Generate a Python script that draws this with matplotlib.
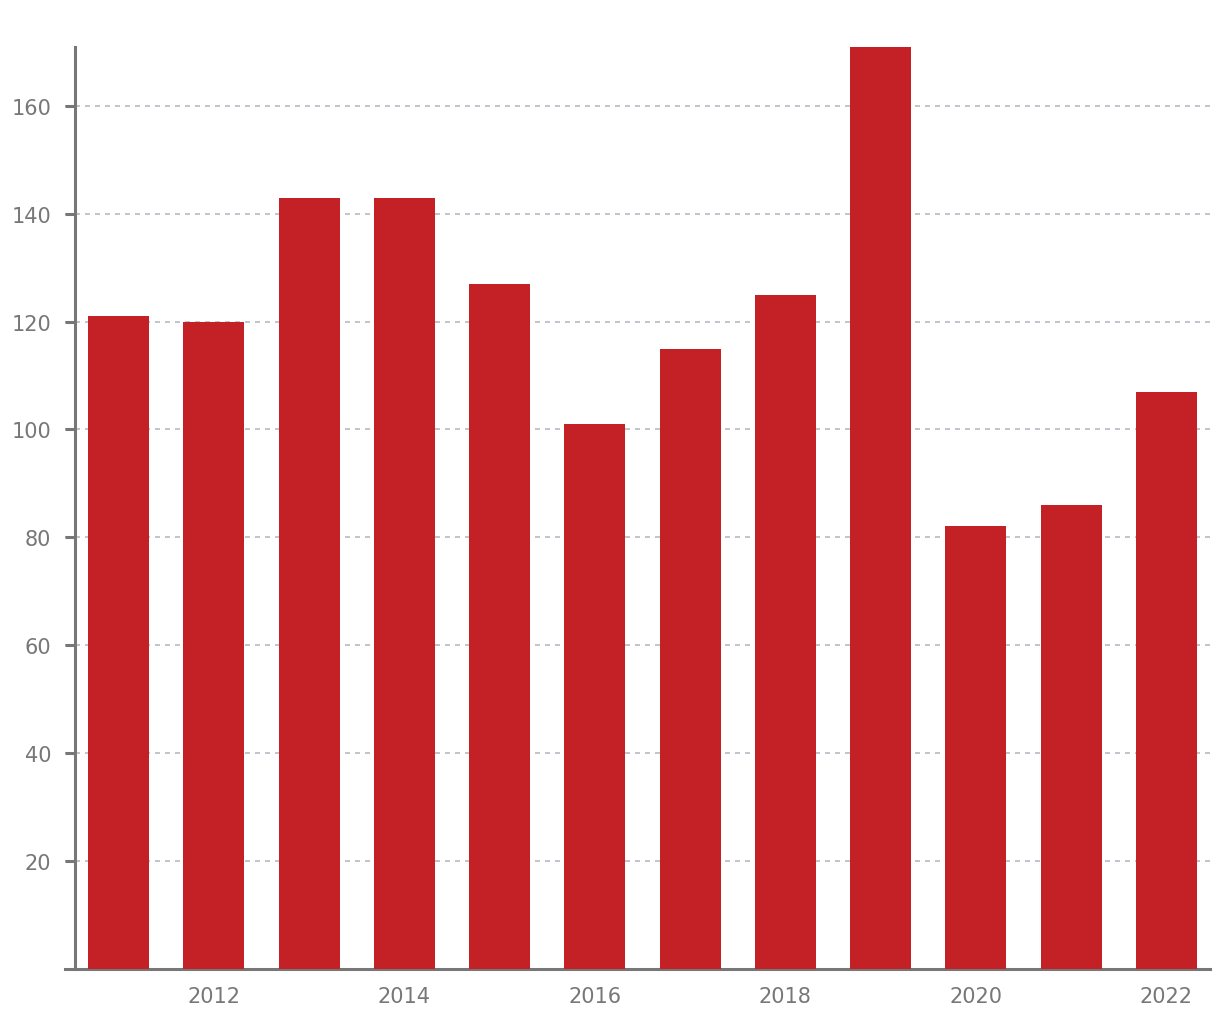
import matplotlib.pyplot as plt

years = [2011, 2012, 2013, 2014, 2015, 2016, 2017, 2018, 2019, 2020, 2021, 2022]
values = [121, 120, 143, 143, 127, 101, 115, 125, 171, 82, 86, 107]
xtick_years = [2012, 2014, 2016, 2018, 2020, 2022]
ytick_vals = [20, 40, 60, 80, 100, 120, 140, 160]

plt.rcParams['font.family'] = ['DejaVu Sans']

fig = plt.figure(figsize=(12.2, 10.2), dpi=100)
ax = fig.add_axes([65 / 1220, 50.5 / 1020, 1145 / 1220, 923.5 / 1020])

ax.bar(years, values, width=0.64, color='#c42127', zorder=3)

ax.set_xlim(2010.436, 2022.459)
ax.set_ylim(0, 171.3)

ax.set_yticks(ytick_vals)
ax.set_xticks(xtick_years)
ax.set_xticklabels([str(y) for y in xtick_years])

ax.grid(axis='y', color='#b4bbc2', linestyle=(0, (3, 3)), linewidth=1.2, zorder=1)

for s in ['top', 'right']:
    ax.spines[s].set_visible(False)
ax.spines['left'].set_position(('data', 2010.541))
ax.spines['left'].set_bounds(0, 171.0)
ax.spines['left'].set_color('#777777')
ax.spines['left'].set_linewidth(2.2)
ax.spines['bottom'].set_color('#777777')
ax.spines['bottom'].set_linewidth(2.2)

ax.tick_params(axis='y', length=7.2, width=2.2, color='#777777', labelcolor='#777777',
               labelsize=15, pad=10)
ax.tick_params(axis='x', length=0, labelcolor='#777777', labelsize=15, pad=12.5)

fig.savefig('out.png', dpi=100)
